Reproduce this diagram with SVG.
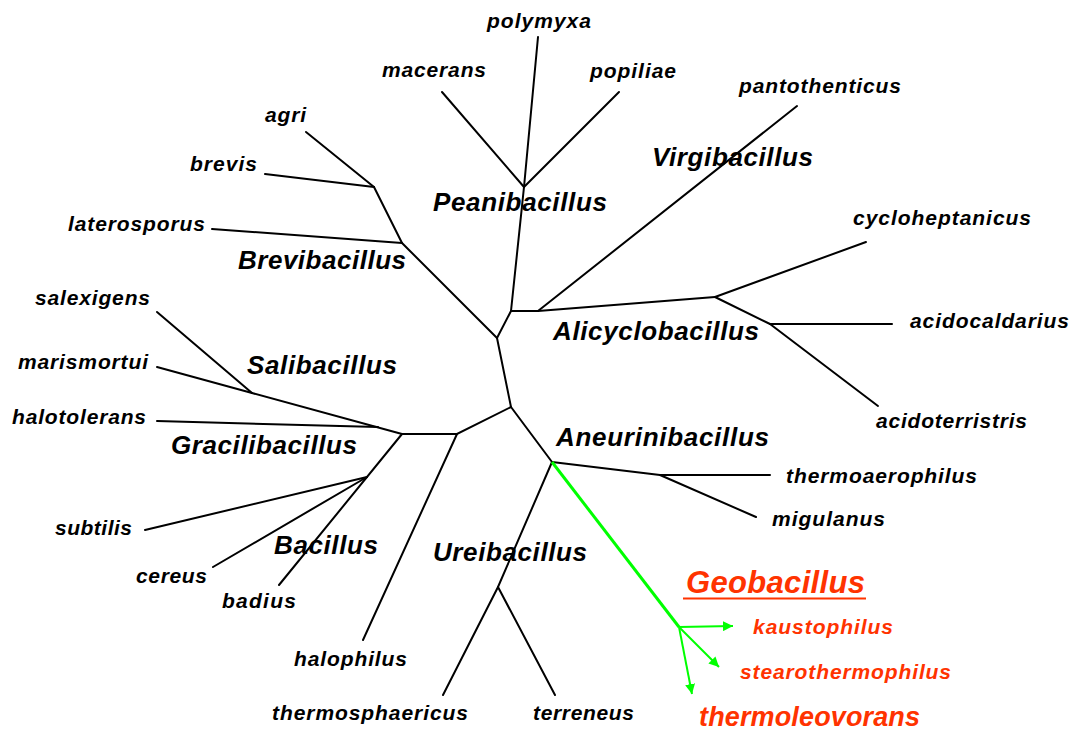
<svg xmlns="http://www.w3.org/2000/svg" width="1073" height="732" viewBox="0 0 1073 732">
<style>
text{font-family:"Liberation Sans",Arial,sans-serif;font-weight:bold;font-style:italic}
.sp{font-size:21px;fill:#000}
.gn{font-size:26px;fill:#000}
.rd{font-size:21px;fill:#FF3300}
.edge{stroke:#000;stroke-width:2;fill:none;stroke-linecap:round}
.geo{stroke:#00FF00;stroke-width:3;fill:none}
.arr{stroke:#00FF00;stroke-width:2;fill:none}
</style>
<defs>
<marker id="ah" viewBox="0 0 10 10" refX="10" refY="5" markerWidth="5" markerHeight="5" orient="auto" markerUnits="strokeWidth">
<path d="M0,0 L10,5 L0,10 z" fill="#00FF00"/>
</marker>
</defs>
<rect width="1073" height="732" fill="#fff"/>
<g id="connectors">
<polyline class="edge" points="497,338 511,311 538,311"/>
<line class="edge" x1="511" y1="311" x2="524" y2="187"/>
<line class="edge" x1="524" y1="187" x2="538" y2="37"/>
<line class="edge" x1="524" y1="187" x2="442" y2="92"/>
<line class="edge" x1="524" y1="187" x2="619" y2="92"/>
<line class="edge" x1="538" y1="311" x2="797" y2="106"/>
<line class="edge" x1="538" y1="311" x2="715" y2="297"/>
<line class="edge" x1="715" y1="297" x2="866" y2="242"/>
<line class="edge" x1="715" y1="297" x2="770" y2="324"/>
<line class="edge" x1="770" y1="324" x2="892" y2="324"/>
<line class="edge" x1="770" y1="324" x2="878" y2="406"/>
<line class="edge" x1="497" y1="338" x2="402" y2="243"/>
<line class="edge" x1="402" y1="243" x2="212" y2="229"/>
<line class="edge" x1="402" y1="243" x2="374" y2="187"/>
<line class="edge" x1="374" y1="187" x2="265" y2="174"/>
<line class="edge" x1="374" y1="187" x2="306" y2="132"/>
<line class="edge" x1="497" y1="338" x2="511" y2="407"/>
<polyline class="edge" points="511,407 457,434 402,434"/>
<line class="edge" x1="402" y1="434" x2="252" y2="393"/>
<line class="edge" x1="252" y1="393" x2="157" y2="312"/>
<line class="edge" x1="252" y1="393" x2="157" y2="367"/>
<line class="edge" x1="378" y1="427" x2="157" y2="421"/>
<line class="edge" x1="402" y1="434" x2="279" y2="585"/>
<line class="edge" x1="367" y1="477" x2="145" y2="530"/>
<line class="edge" x1="367" y1="477" x2="213" y2="567"/>
<line class="edge" x1="457" y1="434" x2="363" y2="640"/>
<line class="edge" x1="511" y1="407" x2="552" y2="462"/>
<polyline class="edge" points="552,462 498,587 443,695"/>
<line class="edge" x1="498" y1="587" x2="555" y2="695"/>
<line class="edge" x1="552" y1="462" x2="660" y2="475"/>
<line class="edge" x1="660" y1="475" x2="770" y2="475"/>
<line class="edge" x1="660" y1="475" x2="756" y2="517"/>
<line class="geo" x1="552" y1="462" x2="679" y2="627"/>
<line class="arr" x1="679" y1="627" x2="733" y2="626" marker-end="url(#ah)"/>
<line class="arr" x1="679" y1="627" x2="719" y2="667" marker-end="url(#ah)"/>
<line class="arr" x1="679" y1="627" x2="692" y2="694" marker-end="url(#ah)"/>
</g>
<g id="polymyxa"><text class="sp" x="487" y="28" textLength="104" lengthAdjust="spacing">polymyxa</text></g>
<g id="macerans"><text class="sp" x="382" y="77" textLength="104" lengthAdjust="spacing">macerans</text></g>
<g id="popiliae"><text class="sp" x="590" y="78" textLength="86" lengthAdjust="spacing">popiliae</text></g>
<g id="pantothenticus"><text class="sp" x="739" y="93" textLength="162" lengthAdjust="spacing">pantothenticus</text></g>
<g id="agri"><text class="sp" x="265" y="122" textLength="41" lengthAdjust="spacing">agri</text></g>
<g id="brevis"><text class="sp" x="190" y="171" textLength="67" lengthAdjust="spacing">brevis</text></g>
<g id="laterosporus"><text class="sp" x="68" y="231" textLength="137" lengthAdjust="spacing">laterosporus</text></g>
<g id="cycloheptanicus"><text class="sp" x="853" y="225" textLength="178" lengthAdjust="spacing">cycloheptanicus</text></g>
<g id="acidocaldarius"><text class="sp" x="910" y="328" textLength="159" lengthAdjust="spacing">acidocaldarius</text></g>
<g id="acidoterristris"><text class="sp" x="876" y="428" textLength="151" lengthAdjust="spacing">acidoterristris</text></g>
<g id="salexigens"><text class="sp" x="35" y="305" textLength="115" lengthAdjust="spacing">salexigens</text></g>
<g id="marismortui"><text class="sp" x="18" y="369" textLength="130" lengthAdjust="spacing">marismortui</text></g>
<g id="halotolerans"><text class="sp" x="12" y="424" textLength="134" lengthAdjust="spacing">halotolerans</text></g>
<g id="subtilis"><text class="sp" x="55" y="535" textLength="77" lengthAdjust="spacing">subtilis</text></g>
<g id="cereus"><text class="sp" x="136" y="583" textLength="71" lengthAdjust="spacing">cereus</text></g>
<g id="badius"><text class="sp" x="222" y="608" textLength="74" lengthAdjust="spacing">badius</text></g>
<g id="halophilus"><text class="sp" x="294" y="666" textLength="113" lengthAdjust="spacing">halophilus</text></g>
<g id="thermosphaericus"><text class="sp" x="272" y="720" textLength="196" lengthAdjust="spacing">thermosphaericus</text></g>
<g id="terreneus"><text class="sp" x="533" y="720" textLength="101" lengthAdjust="spacing">terreneus</text></g>
<g id="thermoaerophilus"><text class="sp" x="786" y="483" textLength="191" lengthAdjust="spacing">thermoaerophilus</text></g>
<g id="migulanus"><text class="sp" x="772" y="526" textLength="113" lengthAdjust="spacing">migulanus</text></g>
<g id="Peanibacillus"><text class="gn" x="433" y="211" textLength="174" lengthAdjust="spacing">Peanibacillus</text></g>
<g id="Virgibacillus"><text class="gn" x="652" y="166" textLength="161" lengthAdjust="spacing">Virgibacillus</text></g>
<g id="Brevibacillus"><text class="gn" x="238" y="269" textLength="168" lengthAdjust="spacing">Brevibacillus</text></g>
<g id="Alicyclobacillus"><text class="gn" x="553" y="340" textLength="206" lengthAdjust="spacing">Alicyclobacillus</text></g>
<g id="Salibacillus"><text class="gn" x="247" y="374" textLength="150" lengthAdjust="spacing">Salibacillus</text></g>
<g id="Gracilibacillus"><text class="gn" x="171" y="454" textLength="186" lengthAdjust="spacing">Gracilibacillus</text></g>
<g id="Aneurinibacillus"><text class="gn" x="556" y="446" textLength="213" lengthAdjust="spacing">Aneurinibacillus</text></g>
<g id="Bacillus"><text class="gn" x="274" y="554" textLength="104" lengthAdjust="spacing">Bacillus</text></g>
<g id="Ureibacillus"><text class="gn" x="433" y="561" textLength="154" lengthAdjust="spacing">Ureibacillus</text></g>
<g id="Geobacillus">
<text x="686" y="593" textLength="179" lengthAdjust="spacing" style="font-size:31px;fill:#FF3300">Geobacillus</text>
<line x1="683" y1="598.5" x2="866" y2="598.5" stroke="#FF3300" stroke-width="2"/>
</g>
<g id="kaustophilus"><text class="rd" x="753" y="634" textLength="140" lengthAdjust="spacing">kaustophilus</text></g>
<g id="stearothermophilus"><text class="rd" x="740" y="679" textLength="211" lengthAdjust="spacing">stearothermophilus</text></g>
<g id="thermoleovorans"><text x="699" y="726" textLength="221" lengthAdjust="spacing" style="font-size:27px;fill:#FF3300">thermoleovorans</text></g>
</svg>
